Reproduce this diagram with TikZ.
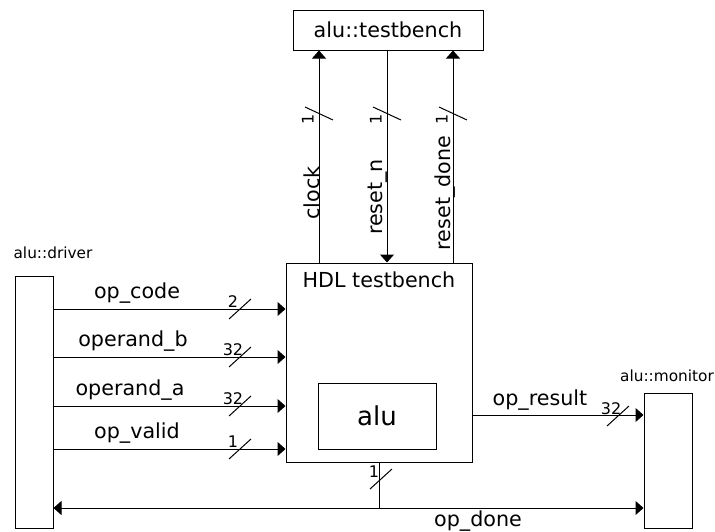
\documentclass[tikz,border=0pt]{standalone}
\usepackage{fontspec}
\setmainfont{DejaVu Sans}
\usetikzlibrary{arrows.meta}
\begin{document}
\begin{tikzpicture}[x=0.75pt,y=-0.75pt,line width=0.75pt,
  box/.style={draw,inner sep=0pt},
  lbl/.style={inner sep=0pt,font=\fontsize{15.5pt}{18pt}\selectfont},
  small/.style={inner sep=0pt,font=\fontsize{11.5pt}{13pt}\selectfont},
  num/.style={inner sep=0pt,font=\fontsize{12pt}{13pt}\selectfont},
  arr/.style={-{Triangle[length=6pt,width=10.5pt]}},
  darr/.style={{Triangle[length=6pt,width=10.5pt]}-{Triangle[length=6pt,width=10.5pt]}},
  hbus/.pic={\draw (-11,10)--(11,-10); \node[num,anchor=south] at (-7,-1) {#1};},
  vbus/.pic={\draw (-14,-6)--(14,7); \node[num,rotate=90,anchor=south] at (-5,6) {#1};}
]
\useasboundingbox (0,0) rectangle (715,532);
% nodes
\node[box,minimum width=142.5pt,minimum height=30pt,font=\fontsize{15.5pt}{18pt}\selectfont] (tb) at (388,30) {alu::testbench};
\node[box,minimum width=139.5pt,minimum height=149.25pt] (hdl) at (379,362.5) {};
\node[lbl] (hdltxt) at (379,280) {HDL testbench};
\node[box,minimum width=88.5pt,minimum height=49.5pt,font=\fontsize{19.5pt}{22pt}\selectfont] (alu) at (377,416) {alu};
\node[box,minimum width=28.5pt,minimum height=189pt] (drv) at (34,402) {};
\node[small] (drvtxt) at (53,253) {alu::driver};
\node[box,minimum width=36pt,minimum height=101.25pt] (mon) at (668,460.5) {};
\node[small] (montxt) at (667,376) {alu::monitor};
% vertical connectors
\draw[arr] (hdl.north -| 319,0) -- (tb.south -| 319,0);
\draw[arr] (tb.south -| 387,0) -- (hdl.north -| 387,0);
\draw[arr] (hdl.north -| 453,0) -- (tb.south -| 453,0);
\node[lbl,rotate=90] (lclk) at (312,193) {clock};
\node[lbl,rotate=90] (lrst) at (378,197) {reset\_n};
\node[lbl,rotate=90] (lrd) at (445,193) {reset\_done};
\pic at (319,113) {vbus=1};
\pic at (387,113) {vbus=1};
\pic at (453,113) {vbus=1};
% inputs
\draw[arr] (drv.east |- 0,309) -- (hdl.west |- 0,309);
\draw[arr] (drv.east |- 0,357) -- (hdl.west |- 0,357);
\draw[arr] (drv.east |- 0,406) -- (hdl.west |- 0,406);
\draw[arr] (drv.east |- 0,449) -- (hdl.west |- 0,449);
\node[lbl] (lopc) at (137,293) {op\_code};
\node[lbl] (lopb) at (133,341) {operand\_b};
\node[lbl] (lopa) at (130,390) {operand\_a};
\node[lbl] (lopv) at (137,433) {op\_valid};
\pic at (240,309) {hbus=2};
\pic at (240,357) {hbus=32};
\pic at (240,406) {hbus=32};
\pic at (240,449) {hbus=1};
% op_result
\draw[arr] (hdl.east |- 0,415) -- (mon.west |- 0,415);
\node[lbl] (lres) at (540,400) {op\_result};
\pic at (618,416) {hbus=32};
% op_done
\coordinate (j) at (379,508);
\draw[darr] (drv.east |- j) -- (mon.west |- j);
\draw (hdl.south) -- (j);
\node[lbl] (ldone) at (478,521) {op\_done};
\pic at (381,479) {hbus=1};
\end{tikzpicture}
\end{document}
